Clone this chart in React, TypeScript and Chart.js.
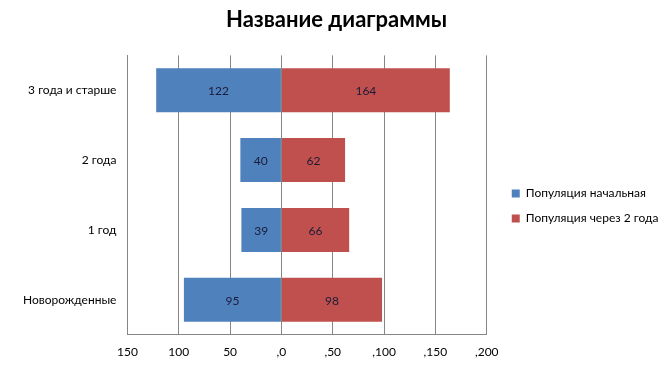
import React, { useEffect, useRef } from "react";
import { Chart, registerables } from "chart.js";

Chart.register(...registerables);

const categories = ["3 года и старше", "2 года", "1 год", "Новорожденные"];
const initialPopulation = [-122, -40, -39, -95];
const populationAfter2Years = [164, 62, 66, 98];
const seriesNames = ["Популяция начальная", "Популяция через 2 года"];
const chartTitle = "Название диаграммы";
const xMin = -150;
const xMax = 200;
const xStep = 50;

const FONT = "Lato, 'Open Sans', sans-serif";
const LEGEND_GAP = 12;

const barLabelPlugin = {
  id: "barLabels",
  afterDatasetsDraw(chart: any) {
    const ctx = chart.ctx;
    ctx.save();
    ctx.font = `12px ${FONT}`;
    ctx.fillStyle = "#1b1b38";
    ctx.textAlign = "center";
    ctx.textBaseline = "middle";
    chart.data.datasets.forEach((ds: any, di: number) => {
      const meta = chart.getDatasetMeta(di);
      meta.data.forEach((bar: any, i: number) => {
        const v = ds.data[i];
        const cx = (bar.x + bar.base) / 2;
        ctx.fillText(String(Math.abs(v)), cx, bar.y + 1);
      });
    });
    ctx.restore();
  },
};

// leaves extra room between the plot and the legend
const legendGapPlugin = {
  id: "legendGap",
  afterInit(chart: any) {
    const lg = chart.legend;
    if (!lg) return;
    const orig = lg.fit.bind(lg);
    lg.fit = () => {
      orig();
      lg.width += LEGEND_GAP;
    };
  },
  afterLayout(chart: any) {
    const lg = chart.legend;
    if (!lg) return;
    lg.left += LEGEND_GAP;
    lg.right += LEGEND_GAP;
  },
};

export default function App() {
  const ref = useRef<HTMLCanvasElement>(null);
  useEffect(() => {
    if (!ref.current) return;
    const chart = new Chart(ref.current, {
      type: "bar",
      data: {
        labels: categories,
        datasets: [
          {
            label: seriesNames[0],
            data: initialPopulation,
            backgroundColor: "#4f81bd",
            barPercentage: 0.63,
            categoryPercentage: 1,
          },
          {
            label: seriesNames[1],
            data: populationAfter2Years,
            backgroundColor: "#c0504d",
            barPercentage: 0.63,
            categoryPercentage: 1,
          },
        ],
      },
      options: {
        indexAxis: "y",
        animation: false,
        responsive: false,
        maintainAspectRatio: false,
        layout: { padding: { left: 12, right: 5, top: 0, bottom: 7 } },
        scales: {
          x: {
            stacked: true,
            min: xMin,
            max: xMax,
            ticks: {
              stepSize: xStep,
              padding: 10,
              color: "#000",
              font: { family: FONT, size: 12 },
              callback: (v: any) => (v < 0 ? String(-v) : "," + v),
            },
            grid: { color: "#868686", drawTicks: false },
            border: { color: "#868686" },
          },
          y: {
            stacked: true,
            ticks: {
              padding: 11,
              color: "#000",
              font: { family: FONT, size: 12 },
            },
            grid: { display: false, drawTicks: false },
            border: { color: "#868686" },
          },
        },
        plugins: {
          title: {
            display: true,
            text: chartTitle,
            color: "#000",
            font: { family: FONT, size: 22, weight: "bold" },
            padding: { top: 7, bottom: 22 },
          },
          legend: {
            position: "right",
            fullSize: false,
            title: {
              display: true,
              text: "",
              font: { family: FONT, size: 10 },
              padding: { top: 2, bottom: 8 },
            },
            labels: {
              boxWidth: 8,
              boxHeight: 8,
              padding: 13,
              color: "#000",
              font: { family: FONT, size: 12 },
            },
          },
          tooltip: { enabled: false },
        },
      },
      plugins: [barLabelPlugin, legendGapPlugin],
    });
    return () => chart.destroy();
  }, []);
  return (
    <div style={{ position: "fixed", left: 0, top: 0, width: 666, height: 376, background: "#fff" }}>
      <canvas ref={ref} width={666} height={376} style={{ width: 666, height: 376 }} />
    </div>
  );
}
